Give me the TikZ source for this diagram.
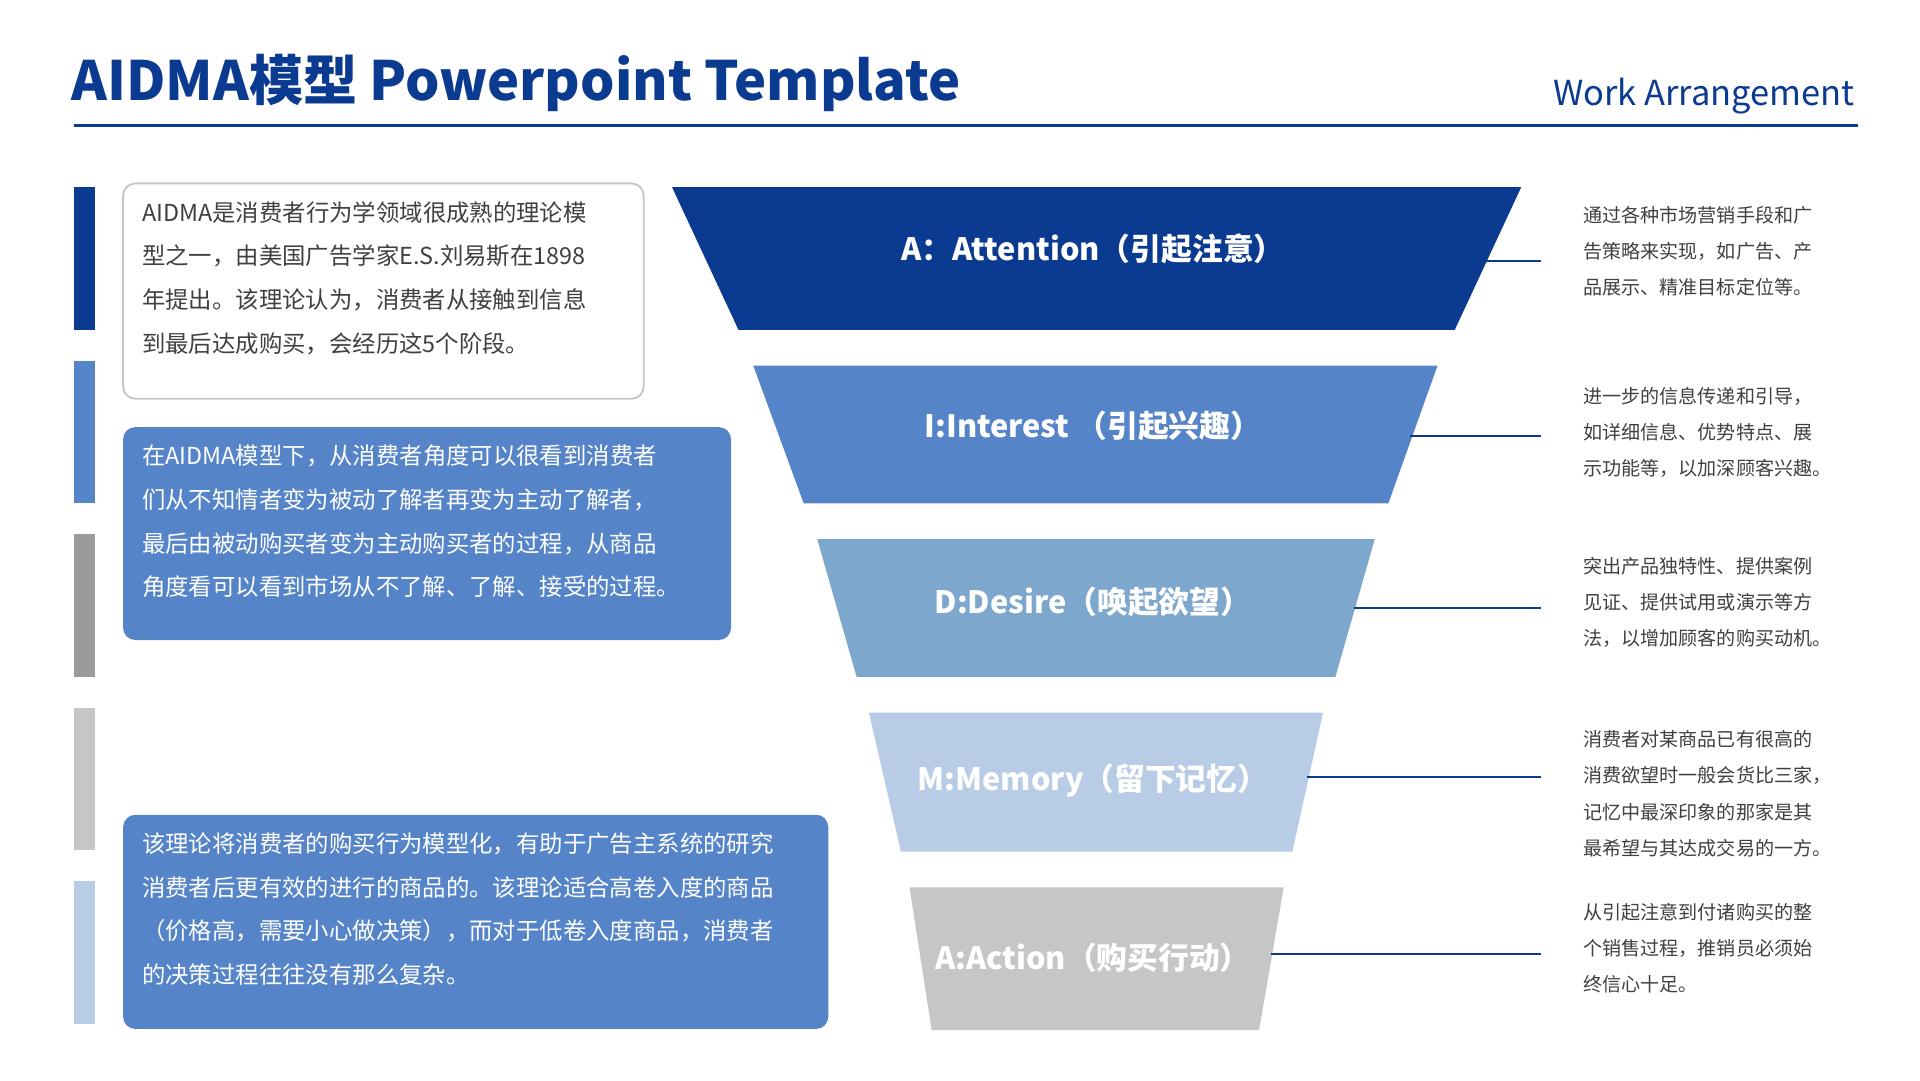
\documentclass[tikz,border=0pt]{standalone}
\usepackage{fontspec}
\setmainfont{Noto Sans CJK SC}
\definecolor{dblue}{HTML}{0B3A91}
\definecolor{mblue}{HTML}{5585C8}
\definecolor{sblue}{HTML}{7EA7CD}
\definecolor{lblue}{HTML}{B8CCE6}
\definecolor{lgray}{HTML}{C6C6C6}
\definecolor{mgray}{HTML}{9B9B9B}
\definecolor{tgray}{HTML}{404040}
\tikzset{
 bar/.style={fill=#1,draw=none},
 boxw/.style={draw=lgray,line width=1.5pt,rounded corners=10pt,fill=white},
 boxb/.style={fill=mblue,rounded corners=10pt,draw=none},
 btxt/.style={anchor=north west,align=left,font=\fontsize{19}{35.5}\selectfont},
 flabel/.style={text=white,font=\fontsize{25}{30}\selectfont\bfseries},
 rtxt/.style={anchor=north west,align=left,text=tgray,font=\fontsize{15.5}{29.5}\selectfont},
 conn/.style={draw=dblue,line width=1.6pt},
}
\begin{document}
\begin{tikzpicture}[x=1pt,y=-1pt]
\useasboundingbox (0,0) rectangle (1560,878);
\fill[white] (0,0) rectangle (1560,878);
\node[anchor=base west,inner sep=0,text=dblue,font=\fontsize{44}{50}\selectfont\bfseries] (title) at (58,82) {AIDMA模型 Powerpoint Template};
\node[anchor=base east,inner sep=0,text=dblue,font=\fontsize{28}{32}\selectfont] (work) at (1507,86) {Work Arrangement};
\draw[dblue,line width=2pt] (60,102) -- (1510,102);
% bars
\fill[bar=dblue] (60,152) rectangle (77,268);
\fill[bar=mblue] (60,293) rectangle (77,409);
\fill[bar=mgray] (60,434) rectangle (77,550);
\fill[bar=lgray] (60,575) rectangle (77,691);
\fill[bar=lblue] (60,716) rectangle (77,832);
% boxes
\draw[boxw] (100,149) rectangle (523,324);
\node[btxt,text=tgray] (t1) at (112,160) {AIDMA是消费者行为学领域很成熟的理论模\\型之一，由美国广告学家E.S.刘易斯在1898\\年提出。该理论认为，消费者从接触到信息\\到最后达成购买，会经历这5个阶段。};
\fill[boxb] (100,347) rectangle (594,520);
\node[btxt,text=white] (t2) at (112,358) {在AIDMA模型下，从消费者角度可以很看到消费者\\们从不知情者变为被动了解者再变为主动了解者，\\最后由被动购买者变为主动购买者的过程，从商品\\角度看可以看到市场从不了解、了解、接受的过程。};
\fill[boxb] (100,662) rectangle (673,836);
\node[btxt,text=white] (t3) at (112,673) {该理论将消费者的购买行为模型化，有助于广告主系统的研究\\消费者后更有效的进行的商品的。该理论适合高卷入度的商品\\（价格高，需要小心做决策），而对于低卷入度商品，消费者\\的决策过程往往没有那么复杂。};
% funnel
\fill[dblue] (546,152) -- (1236,152) -- (1182,268) -- (600,268) -- cycle;
\fill[mblue] (612,297) -- (1168,297) -- (1128,409) -- (653,409) -- cycle;
\fill[sblue] (664,438) -- (1117,438) -- (1085,550) -- (696,550) -- cycle;
\fill[lblue] (706,579) -- (1075,579) -- (1050,692) -- (732,692) -- cycle;
\fill[lgray] (739,721) -- (1043,721) -- (1023,837) -- (757,837) -- cycle;
\node[flabel] (f1) at (888,202) {A：Attention（引起注意）};
\node[flabel] (f2) at (888,346) {I:Interest （引起兴趣）};
\node[flabel] (f3) at (888,489) {D:Desire（唤起欲望）};
\node[flabel] (f4) at (888,634) {M:Memory（留下记忆）};
\node[flabel] (f5) at (888,778) {A:Action（购买行动）};
% connectors
\coordinate (a1) at (1206,212); \coordinate (b1) at (1252,212);
\coordinate (a2) at (1146,354); \coordinate (b2) at (1252,354);
\coordinate (a3) at (1100,494); \coordinate (b3) at (1252,494);
\coordinate (a4) at (1062,631); \coordinate (b4) at (1252,631);
\coordinate (a5) at (1033,775); \coordinate (b5) at (1252,775);
\foreach \i in {1,...,5}{\draw[conn] (a\i) -- (b\i);}
% right texts
\node[rtxt] (r1) at (1283,164) {通过各种市场营销手段和广\\告策略来实现，如广告、产\\品展示、精准目标定位等。};
\node[rtxt] (r2) at (1283,311) {进一步的信息传递和引导，\\如详细信息、优势特点、展\\示功能等，以加深顾客兴趣。};
\node[rtxt] (r3) at (1283,449) {突出产品独特性、提供案例\\见证、提供试用或演示等方\\法，以增加顾客的购买动机。};
\node[rtxt] (r4) at (1283,590) {消费者对某商品已有很高的\\消费欲望时一般会货比三家，\\记忆中最深印象的那家是其\\最希望与其达成交易的一方。};
\node[rtxt] (r5) at (1283,730) {从引起注意到付诸购买的整\\个销售过程，推销员必须始\\终信心十足。};
\end{tikzpicture}
\end{document}
